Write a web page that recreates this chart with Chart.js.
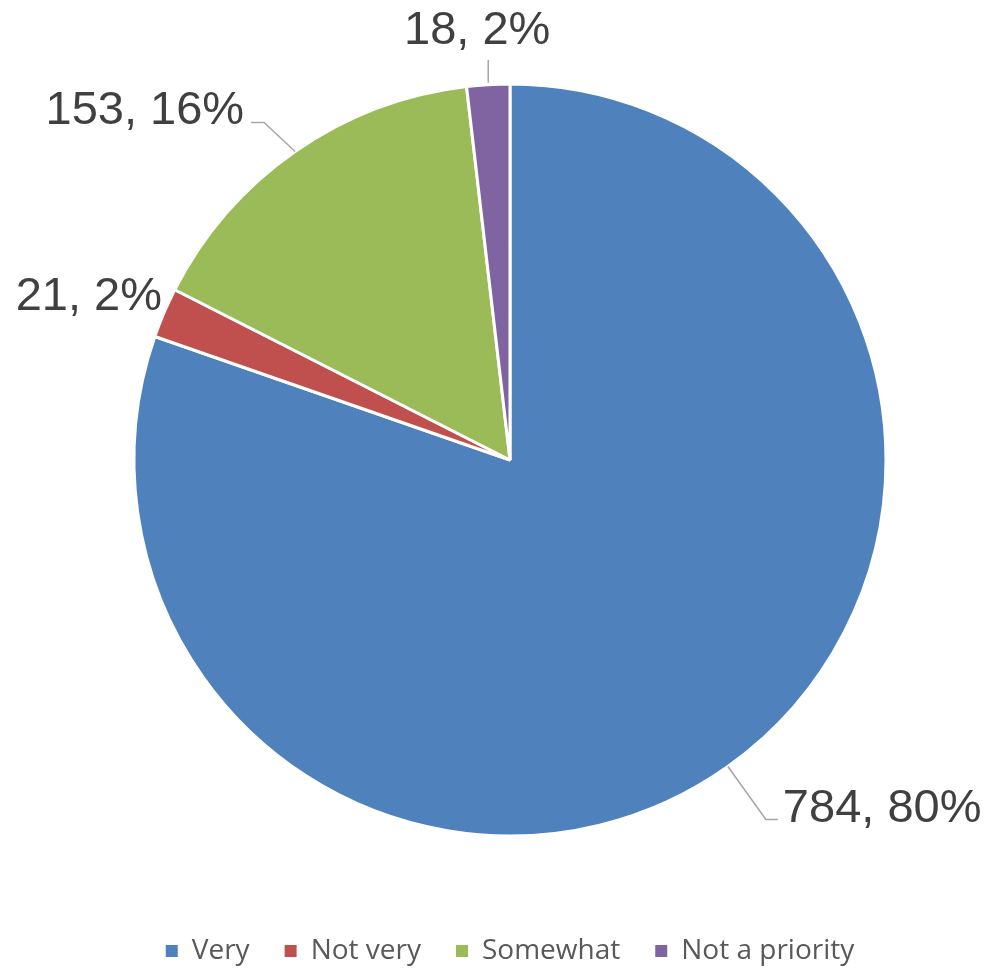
<!DOCTYPE html>
<html>
<head>
<meta charset="utf-8">
<title>Priority pie</title>
<script src="https://cdn.jsdelivr.net/npm/chart.js@4.4.1/dist/chart.umd.min.js"></script>
<style>
    html, body { margin: 0; padding: 0; background: #ffffff; }
    #wrap { width: 991px; height: 968px; }
</style>
</head>
<body>
<div id="wrap"><canvas id="pieChart" width="991" height="968"></canvas></div>
<script>
// data
const categories = ['Very', 'Not very', 'Somewhat', 'Not a priority'];
const counts = [784, 21, 153, 18];
const sliceColors = ['#4F81BD', '#C0504D', '#9BBB59', '#8064A2'];

// label placement relative to the slice's outer edge point (dx/dy for text, leader line points)
const labelPlacement = [
    { tx: 55, ty: 56, align: 'left', line: [[0, 0], [38, 53], [50, 53]] },
    { tx: -2, ty: -3, align: 'right', line: null },
    { tx: -51, ty: -27, align: 'right', line: [[0, 0], [-31, -29], [-44, -29]] },
    { tx: -11, ty: -41, align: 'center', line: [[0, -2], [0, -25]] }
];

const total = counts.reduce((a, b) => a + b, 0);

const dataLabels = {
    id: 'dataLabels',
    afterDatasetsDraw(chart) {
        const ctx = chart.ctx;
        const arcs = chart.getDatasetMeta(0).data;
        ctx.save();
        arcs.forEach((arc, i) => {
            const p = arc.getProps(['x', 'y', 'startAngle', 'endAngle', 'outerRadius'], true);
            const mid = (p.startAngle + p.endAngle) / 2;
            const ex = p.x + Math.cos(mid) * p.outerRadius;
            const ey = p.y + Math.sin(mid) * p.outerRadius;
            const pl = labelPlacement[i];

            if (pl.line) {
                ctx.strokeStyle = '#A6A6A6';
                ctx.lineWidth = 1.5;
                ctx.beginPath();
                pl.line.forEach(([dx, dy], k) => {
                    if (k === 0) ctx.moveTo(ex + dx, ey + dy);
                    else ctx.lineTo(ex + dx, ey + dy);
                });
                ctx.stroke();
            }

            const pct = Math.round(counts[i] / total * 100);
            ctx.fillStyle = '#404040';
            ctx.font = '47px "Liberation Sans", Arial, sans-serif';
            ctx.textAlign = pl.align;
            ctx.textBaseline = 'alphabetic';
            ctx.fillText(`${counts[i]}, ${pct}%`, ex + pl.tx, ey + pl.ty);
        });
        ctx.restore();
    }
};

new Chart(document.getElementById('pieChart').getContext('2d'), {
    type: 'pie',
    data: {
        labels: categories,
        datasets: [{
            data: counts,
            backgroundColor: sliceColors,
            borderColor: '#ffffff',
            borderWidth: 3,
            radius: 376
        }]
    },
    options: {
        responsive: false,
        animation: false,
        layout: { padding: { top: 18, left: 29, right: 0, bottom: 0 } },
        plugins: {
            tooltip: { enabled: false },
            legend: {
                position: 'bottom',
                maxHeight: 66,
                labels: {
                    boxWidth: 12,
                    boxHeight: 12,
                    padding: 35,
                    color: '#595959',
                    font: { family: '"Open Sans", sans-serif', size: 28 },
                    generateLabels(chart) {
                        const base = Chart.overrides.pie.plugins.legend.labels.generateLabels(chart);
                        return base.map(l => Object.assign(l, { lineWidth: 0, strokeStyle: l.fillStyle }));
                    }
                }
            }
        }
    },
    plugins: [dataLabels]
});
</script>
</body>
</html>
